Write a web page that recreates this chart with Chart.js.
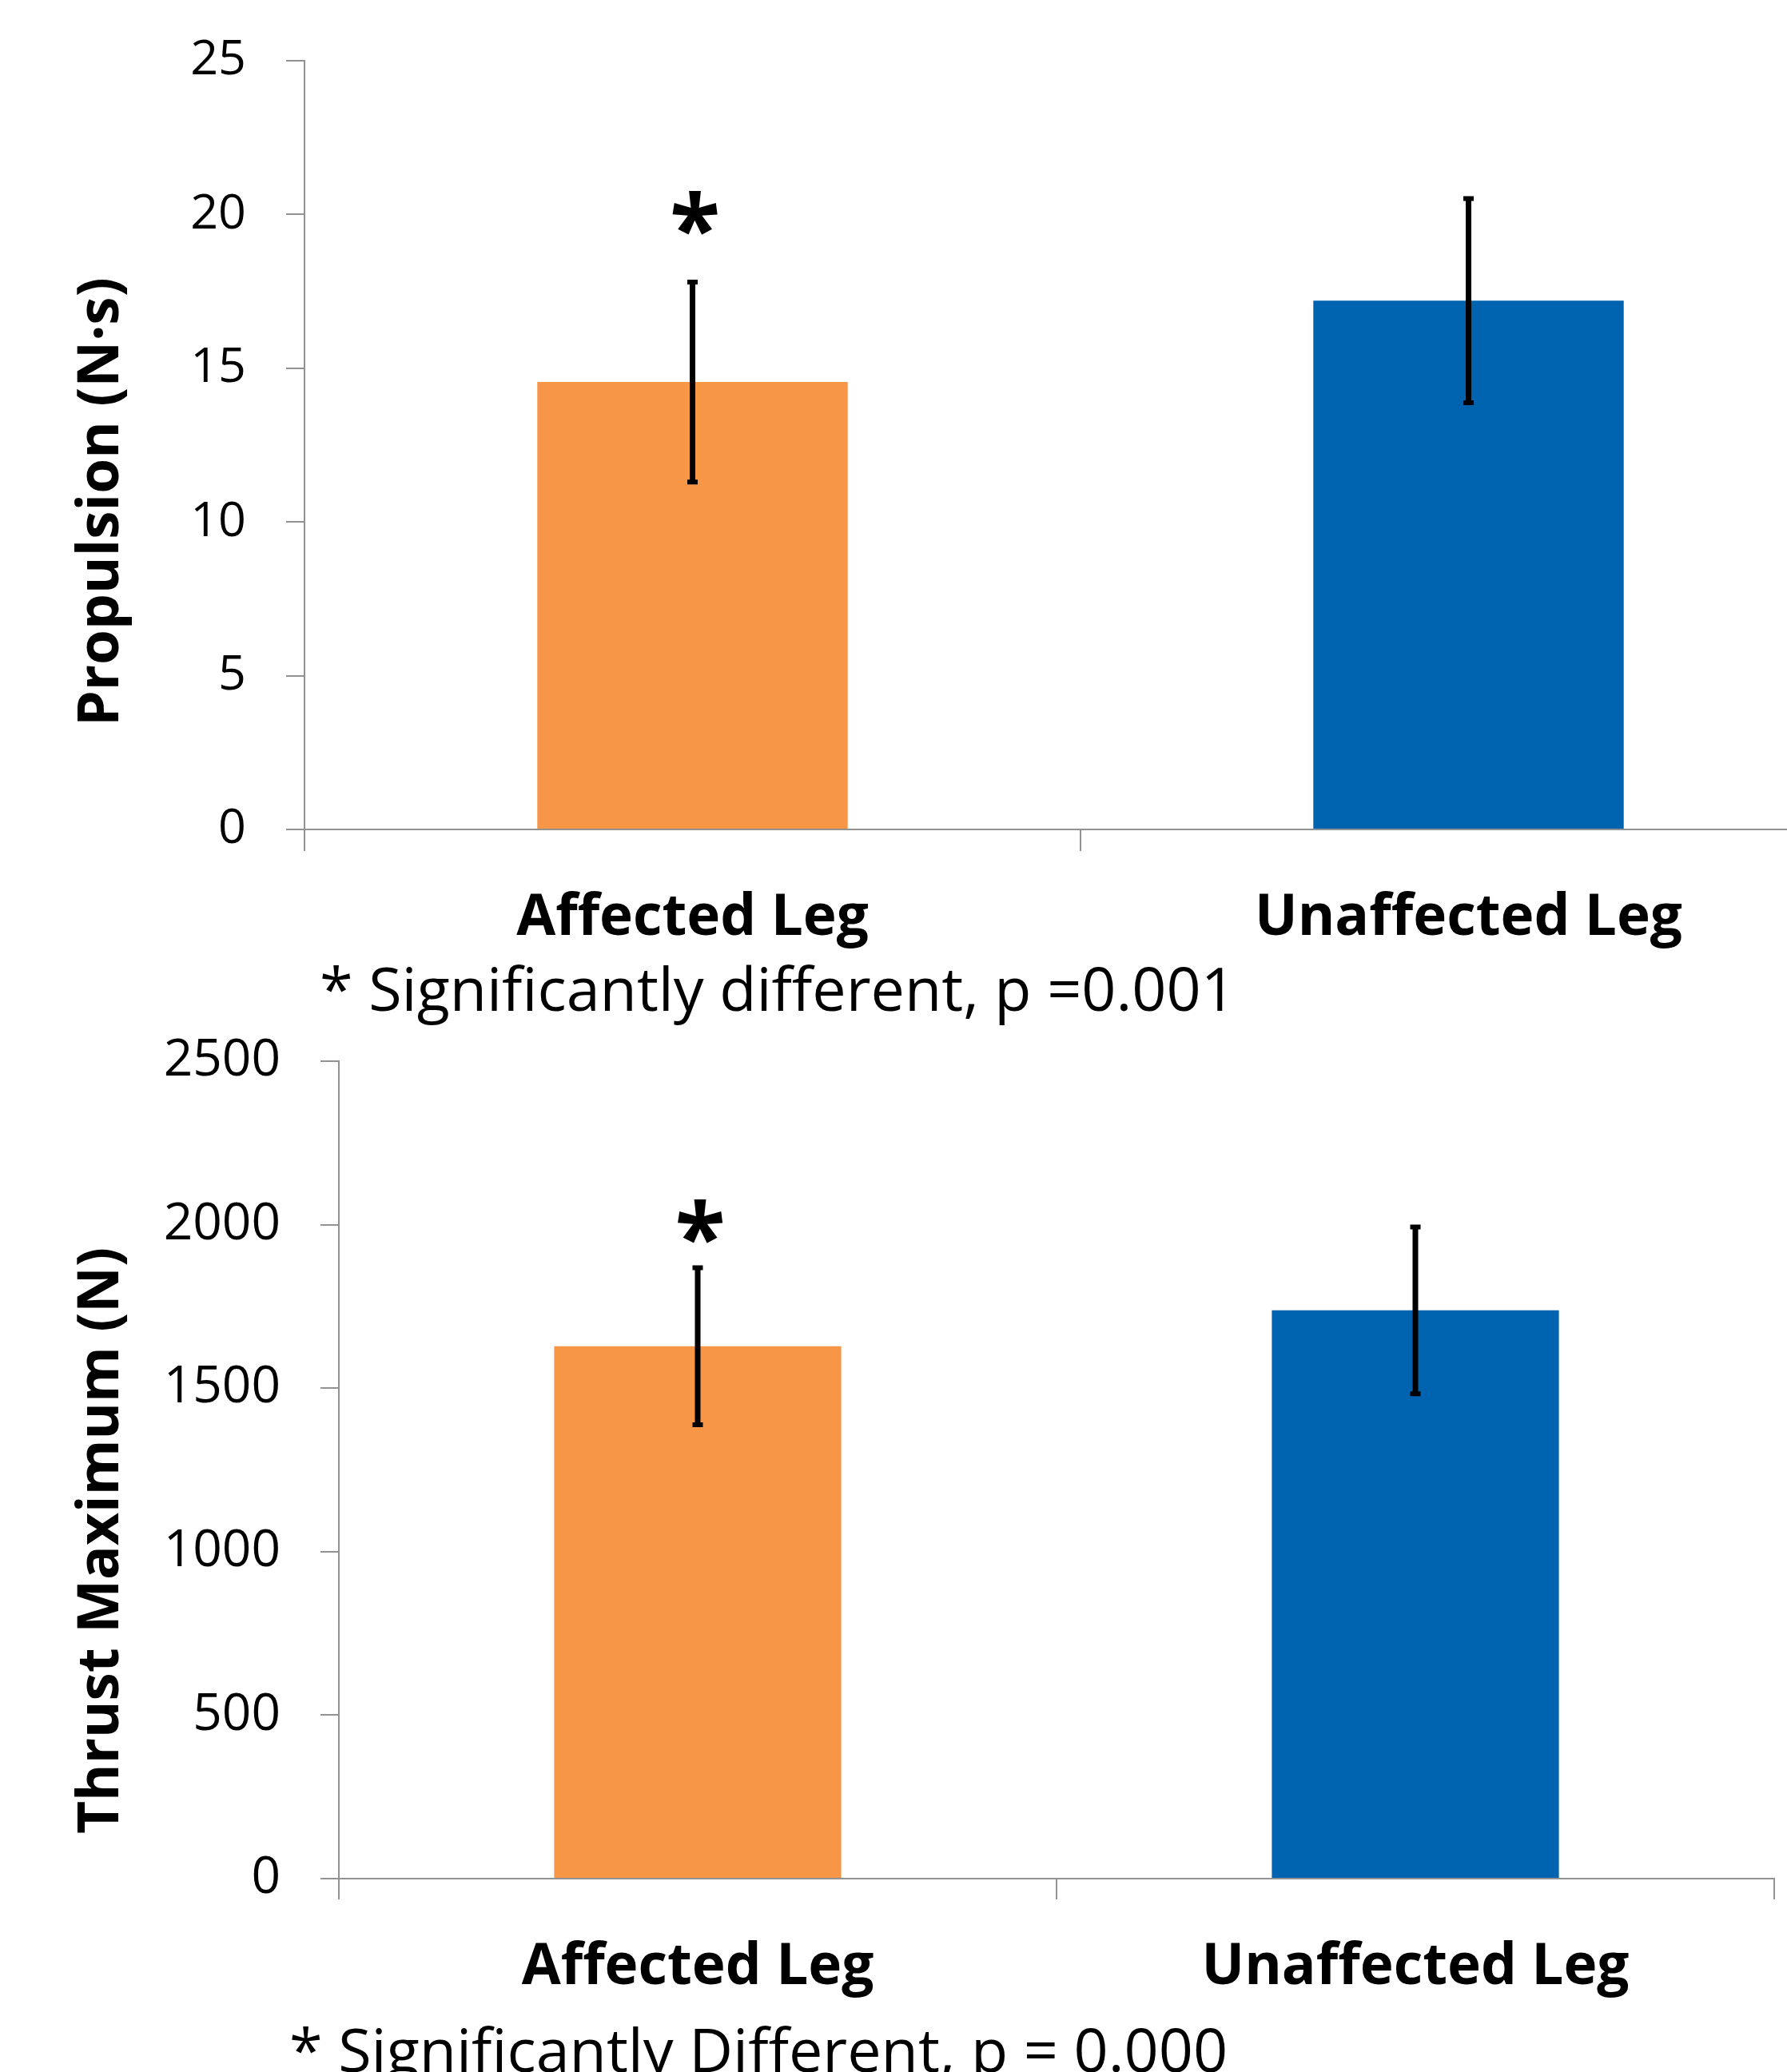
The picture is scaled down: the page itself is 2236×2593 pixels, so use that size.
<!DOCTYPE html>
<html><head><meta charset="utf-8">
<script src="https://cdn.jsdelivr.net/npm/chart.js@4.4.1/dist/chart.umd.min.js"></script>
<style>
html,body{margin:0;padding:0;background:#fff;overflow:hidden;width:2236px;height:2593px;}
#wrap{position:relative;width:2236px;height:2593px;overflow:hidden;background:#fff;}
#c1{position:absolute;left:0;top:0;}
#c2{position:absolute;left:0;top:1290px;}
.note{position:absolute;font-family:'Open Sans';font-size:75.5px;line-height:75.5px;white-space:nowrap;color:#000;}
</style></head>
<body><div id="wrap">
<canvas id="c1" width="2400" height="1290"></canvas>
<canvas id="c2" width="2236" height="1303"></canvas>
<div class="note" id="n1" style="left:400px;top:1198px">* Significantly different, p =0.001</div>
<div class="note" id="n2" style="left:362px;top:2526px">* Significantly Different, p = 0.000</div>
</div>
<script>
// ---- data ----
const categories = ['Affected Leg', 'Unaffected Leg'];
const propulsionMean = [14.55, 17.2];
const propulsionErr = [3.25, 3.32];
const propulsionSig = [20.05, null];
const propulsionTicks = [0, 5, 10, 15, 20, 25];
const thrustMean = [1628, 1738];
const thrustErr = [240, 255];
const thrustSig = [2010, null];
const thrustTicks = [0, 500, 1000, 1500, 2000, 2500];
const barColors = ['#F79646', '#0063AF'];
const propulsionTitle = 'Propulsion (N\u00B7s)';
const thrustTitle = 'Thrust Maximum (N)';

const FAM = "'Open Sans', sans-serif";
const AXIS = '#929292';

function overlay(errs, sig, title, tx, ty, titleSize, starSize) {
  return {
    id: 'overlay',
    afterDatasetsDraw(chart) {
      const ctx = chart.ctx, ys = chart.scales.y;
      const meta = chart.getDatasetMeta(0);
      const vals = chart.data.datasets[0].data;
      ctx.save();
      ctx.strokeStyle = '#000';
      ctx.fillStyle = '#000';
      meta.data.forEach((bar, i) => {
        const x = bar.x;
        const t = ys.getPixelForValue(vals[i] + errs[i]);
        const b = ys.getPixelForValue(vals[i] - errs[i]);
        ctx.lineWidth = 7;
        ctx.beginPath();
        ctx.moveTo(x, t); ctx.lineTo(x, b);
        ctx.stroke();
        ctx.lineWidth = 6;
        ctx.beginPath();
        ctx.moveTo(x - 6.5, t); ctx.lineTo(x + 6.5, t);
        ctx.moveTo(x - 6.5, b); ctx.lineTo(x + 6.5, b);
        ctx.stroke();
        if (sig[i] != null) {
          ctx.font = 'bold ' + starSize + 'px ' + FAM;
          ctx.textAlign = 'center';
          ctx.textBaseline = 'alphabetic';
          const m = ctx.measureText('*');
          const cy = ys.getPixelForValue(sig[i]);
          const base = cy + (m.actualBoundingBoxAscent - m.actualBoundingBoxDescent) / 2;
          ctx.fillText('*', x + 3, base);
        }
      });
      ctx.translate(tx, ty);
      ctx.rotate(-Math.PI / 2);
      ctx.font = 'bold ' + titleSize + 'px ' + FAM;
      ctx.textAlign = 'center';
      ctx.textBaseline = 'alphabetic';
      ctx.fillText(title, 0, 0);
      ctx.restore();
    }
  };
}

function makeChart(id, means, ticksArr, yMax, cfg) {
  return new Chart(document.getElementById(id), {
    type: 'bar',
    data: {
      labels: categories,
      datasets: [{ data: means, backgroundColor: barColors, borderWidth: 0,
        barPercentage: 0.4, categoryPercentage: 1.0 }]
    },
    options: {
      responsive: false, animation: false,
      devicePixelRatio: 1,
      layout: { padding: { left: 0, top: cfg.top, right: cfg.right, bottom: 0 } },
      plugins: { legend: { display: false }, tooltip: { enabled: false } },
      scales: {
        x: {
          offset: true,
          grid: { display: true, offset: true, drawOnChartArea: false, drawTicks: true,
            tickLength: cfg.xTick, color: AXIS, lineWidth: 2 },
          border: { display: true, color: AXIS, width: 2 },
          ticks: { color: '#000', padding: cfg.xPad, maxRotation: 0,
            font: { family: FAM, size: cfg.xFont, weight: 'bold' } },
          afterFit: s => { s.height = cfg.xHeight; s.paddingLeft = 0; s.paddingRight = 0; }
        },
        y: {
          min: 0, max: yMax,
          afterBuildTicks: s => { s.ticks = ticksArr.map(v => ({ value: v })); },
          grid: { display: true, drawOnChartArea: false, drawTicks: true,
            tickLength: 23, color: AXIS, lineWidth: 2 },
          border: { display: true, color: AXIS, width: 2 },
          ticks: { color: '#000', padding: 50,
            callback: v => String(v),
            font: { family: FAM, size: cfg.yFont } },
          afterFit: s => { s.width = cfg.yWidth; s.paddingTop = 0; s.paddingBottom = 0; }
        }
      }
    },
    plugins: [overlay(cfg.errs, cfg.sig, cfg.title, cfg.tx, cfg.ty, cfg.titleSize, cfg.starSize)]
  });
}

function draw() {
  makeChart('c1', propulsionMean, propulsionTicks, 25, {
    top: 76, right: 77, xHeight: 252, yWidth: 381, xTick: 27, xPad: 42,
    xFont: 71, yFont: 61, errs: propulsionErr, sig: propulsionSig,
    title: propulsionTitle, tx: 148, ty: 628, titleSize: 71, starSize: 116
  });
  makeChart('c2', thrustMean, thrustTicks, 2500, {
    top: 38, right: 16, xHeight: 242, yWidth: 424, xTick: 26, xPad: 43,
    xFont: 71, yFont: 64, errs: thrustErr, sig: thrustSig,
    title: thrustTitle, tx: 148, ty: 638, titleSize: 71, starSize: 116
  });
}

Promise.all([
  document.fonts.load("bold 72px 'Open Sans'"),
  document.fonts.load("64px 'Open Sans'")
]).then(draw, draw);
</script>
</body></html>
